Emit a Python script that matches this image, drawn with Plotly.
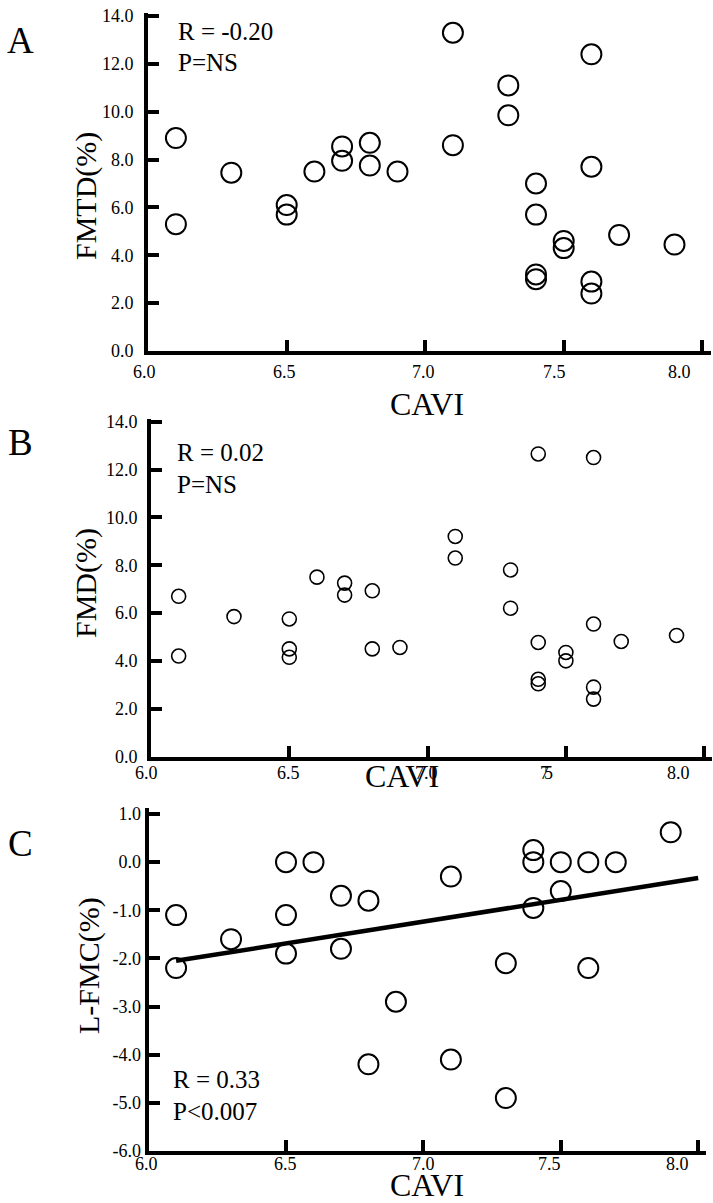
import plotly.graph_objects as go

W, H = 713, 1203
FONT = "Liberation Serif"

# ---------------- data ----------------
cavi_a = [6.1, 6.1, 6.3, 6.5, 6.5, 6.6, 6.7, 6.7, 6.8, 6.8, 6.9, 7.1, 7.1, 7.3, 7.3,
          7.4, 7.4, 7.4, 7.4, 7.5, 7.5, 7.6, 7.6, 7.6, 7.6, 7.7, 7.9]
fmtd = [8.9, 5.3, 7.45, 6.1, 5.7, 7.5, 8.55, 7.95, 8.7, 7.75, 7.5, 13.3, 8.6, 11.1, 9.85,
        7.0, 5.7, 3.2, 3.0, 4.6, 4.3, 12.4, 7.7, 2.9, 2.4, 4.85, 4.45]

cavi_b = [6.1, 6.1, 6.3, 6.5, 6.5, 6.5, 6.6, 6.7, 6.7, 6.8, 6.8, 6.9, 7.1, 7.1, 7.3, 7.3,
          7.4, 7.4, 7.4, 7.4, 7.5, 7.5, 7.6, 7.6, 7.6, 7.6, 7.7, 7.9]
fmd = [6.7, 4.2, 5.85, 5.75, 4.5, 4.15, 7.5, 7.25, 6.75, 6.93, 4.5, 4.56, 9.2, 8.3, 7.8, 6.2,
       12.65, 4.77, 3.23, 3.04, 4.35, 4.0, 12.5, 5.54, 2.9, 2.4, 4.81, 5.06]

cavi_c = [6.1, 6.1, 6.3, 6.5, 6.5, 6.5, 6.6, 6.7, 6.7, 6.8, 6.8, 6.9, 7.1, 7.1, 7.3, 7.3,
          7.4, 7.4, 7.4, 7.5, 7.5, 7.6, 7.6, 7.7, 7.9]
lfmc = [-1.1, -2.2, -1.6, 0.0, -1.1, -1.9, 0.0, -0.7, -1.8, -0.8, -4.2, -2.9, -0.3, -4.1,
        -2.1, -4.9, 0.25, 0.0, -0.95, 0.0, -0.6, 0.0, -2.2, 0.0, 0.62]

fit_cavi = [6.1, 8.0]
fit_lfmc = [-2.05, -0.33]

x_ticks = [6.0, 6.5, 7.0, 7.5, 8.0]
x_ticktext = ["6.0", "6.5", "7.0", "7.5", "8.0"]
y_ticks_ab = [0, 2, 4, 6, 8, 10, 12, 14]
y_ticktext_ab = ["0.0", "2.0", "4.0", "6.0", "8.0", "10.0", "12.0", "14.0"]
y_ticks_c = [-6, -5, -4, -3, -2, -1, 0, 1]
y_ticktext_c = ["-6.0", "-5.0", "-4.0", "-3.0", "-2.0", "-1.0", "0.0", "1.0"]


def px2x(px):
    return px / W


def py2y(py):
    return 1 - py / H


# pixel geometry of the three panels (x: 6.0 -> 8.0, y: bottom -> top of range)
panels = [
    dict(x=(148.2, 702.2), y=(351, 16), yr=[0, 14], yt=y_ticks_ab, ytt=y_ticktext_ab,
         xshift=[-4, -2, -2, -9, -23], xlab_dy=21, ystand=7),
    dict(x=(151, 704.2), y=(756.5, 421.7), yr=[0, 14], yt=y_ticks_ab, ytt=y_ticktext_ab,
         xshift=[-5, -1, -1, -19, -26], xlab_dy=16, ystand=6),
    dict(x=(148.6, 698.2), y=(1151, 814), yr=[-6, 1], yt=y_ticks_c, ytt=y_ticktext_c,
         xshift=[-2, -1, 0, -11, -21], xlab_dy=13, ystand=0),
]
PADX, PADY = 0.03, 0.12   # small range extension so that end ticks are drawn

fig = go.Figure()
series = [(cavi_a, fmtd, 20, 2.0), (cavi_b, fmd, 14, 1.6), (cavi_c, lfmc, 20, 2.0)]
annotations = []
for i, (p, (xs, ys, msize, mlw)) in enumerate(zip(panels, series)):
    n = "" if i == 0 else str(i + 1)
    xa, ya = "x" + n, "y" + n
    fig.add_trace(go.Scatter(
        x=xs, y=ys, mode="markers", xaxis=xa, yaxis=ya, showlegend=False,
        marker=dict(symbol="circle-open", size=msize, color="black",
                    line=dict(width=mlw, color="black")),
    ))
    x0, x1 = p["x"]
    yb, yt = p["y"]
    ppu_x = (x1 - x0) / 2.0
    ppu_y = (yb - yt) / (p["yr"][1] - p["yr"][0])
    axis_common = dict(showgrid=False, zeroline=False, showline=True, linecolor="black",
                       linewidth=4, ticks="inside", ticklen=11, tickwidth=4,
                       tickcolor="black", automargin=False)
    fig.update_layout(**{
        ("xaxis" + n): dict(domain=[px2x(x0), px2x(x1 + PADX * ppu_x)],
                            range=[6.0, 8.0 + PADX], anchor=ya, tickvals=x_ticks,
                            showticklabels=False, **axis_common),
        ("yaxis" + n): dict(domain=[py2y(yb), py2y(yt - PADY * ppu_y)],
                            range=[p["yr"][0], p["yr"][1] + PADY], anchor=xa,
                            tickvals=p["yt"], ticktext=p["ytt"],
                            tickfont=dict(family=FONT, size=18, color="black"),
                            ticklabelstandoff=p["ystand"], **axis_common),
    })
    for tv, tt, sh in zip(x_ticks, x_ticktext, p["xshift"]):
        if i == 1 and tt == "7.5":
            # the reference prints this label with the "7" and "5" run together
            for part, dx in (("7", -2), ("5", 2)):
                annotations.append(dict(
                    x=tv, y=p["yr"][0], xref=xa, yref=ya, text=part, showarrow=False,
                    xanchor="center", yanchor="middle", xshift=sh + dx, yshift=-p["xlab_dy"],
                    font=dict(family=FONT, size=18, color="black")))
            continue
        annotations.append(dict(
            x=tv, y=p["yr"][0], xref=xa, yref=ya, text=tt, showarrow=False,
            xanchor="center", yanchor="middle", xshift=sh, yshift=-p["xlab_dy"],
            font=dict(family=FONT, size=18, color="black")))

fig.add_trace(go.Scatter(x=fit_cavi, y=fit_lfmc, mode="lines", xaxis="x3", yaxis="y3",
                         line=dict(color="black", width=4.5), showlegend=False))


def txt(text, px, py, size, anchor="left", angle=0):
    annotations.append(dict(x=px2x(px), y=py2y(py), xref="paper", yref="paper", text=text,
                            showarrow=False, xanchor=anchor, yanchor="middle",
                            textangle=angle, font=dict(family=FONT, size=size, color="black")))


txt("A", 20, 40, 37, "center")
txt("B", 20, 443, 37, "center")
txt("C", 20, 843, 37, "center")
txt("R = -0.20", 176, 31, 25)
txt("P=NS", 176, 63, 25)
txt("R = 0.02", 175, 452, 25)
txt("P=NS", 175, 484, 25)
txt("R = 0.33", 171, 1079, 25)
txt("P<0.007", 171, 1111, 25)
txt("CAVI", 427, 404, 32, "center")
txt("CAVI", 402, 776, 32, "center")
txt("CAVI", 427, 1185, 32, "center")
txt("FMTD(%)", 86, 196, 30, "center", -90)
txt("FMD(%)", 86, 583, 30, "center", -90)
txt("L-FMC(%)", 89, 966, 30, "center", -90)

fig.update_layout(width=W, height=H, margin=dict(l=0, r=0, t=0, b=0, autoexpand=False),
                  paper_bgcolor="white", plot_bgcolor="white",
                  annotations=annotations, showlegend=False)

fig.write_html("out.html", config={"displayModeBar": False},
               post_script="document.body.style.margin='0px';document.body.style.overflow='hidden';")
